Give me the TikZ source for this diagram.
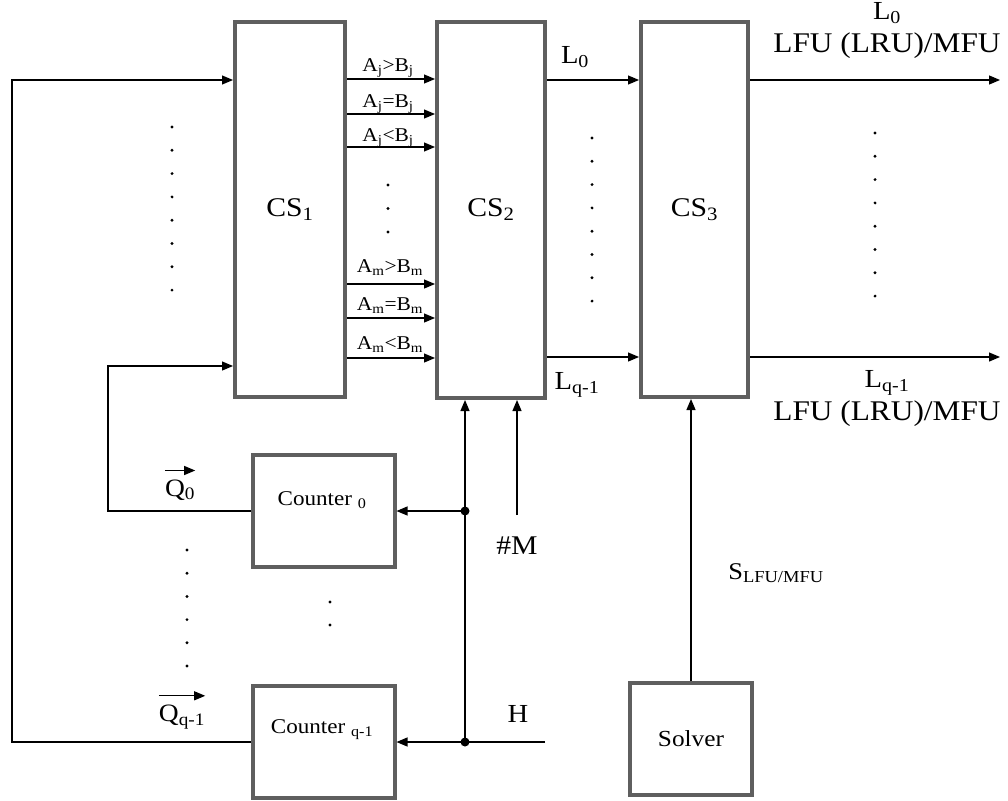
\documentclass[tikz,border=0pt]{standalone}
\usepackage{fontspec}
\setmainfont[FakeStretch=1.1]{Liberation Serif}
\usetikzlibrary{arrows.meta}
\definecolor{boxgray}{RGB}{95,95,95}
\newcommand\myfs[1]{\fontsize{#1}{#1}\selectfont}
\begin{document}
\begin{tikzpicture}[x=1pt,y=-1pt,
  box/.style={draw=boxgray,line width=4pt,inner sep=0pt},
  arr/.style={-{Triangle[length=11pt,width=9pt]},line width=1.2pt},
  ln/.style={line width=1.2pt},
  cmp/.style={inner sep=0pt,font=\myfs{19.5}},
  lbl/.style={inner sep=0pt},
  dotc/.style={fill=black}]
\useasboundingbox (0,0) rectangle (1008,800);
% boxes
\node[box,minimum width=110pt,minimum height=375pt] (cs1) at (290,209.5) {\myfs{27}CS\textsubscript{1}};
\node[box,minimum width=108pt,minimum height=376pt] (cs2) at (491,210) {\myfs{27}CS\textsubscript{2}};
\node[box,minimum width=107pt,minimum height=375pt] (cs3) at (694.5,209.5) {\myfs{27}CS\textsubscript{3}};
\node[box,minimum width=142pt,minimum height=112pt] (c0) at (323.5,511) {};
\node[box,minimum width=142pt,minimum height=112pt] (cq) at (323.5,742) {};
\node[box,minimum width=122pt,minimum height=112pt] (solver) at (691,739) {\myfs{23}Solver};
\node[lbl] (c0t) at (322,500) {\myfs{21}Counter~\textsubscript{0}};
\node[lbl] (cqt) at (322,730) {\myfs{21}Counter~\textsubscript{q-1}};
% feedback lines
\draw[arr] (cq.west) -- (12,742) -- (12,80) -- (cs1.west |- 0,80);
\draw[arr] (c0.west) -- (108,511) -- (108,366) -- (cs1.west |- 0,366);
% comparison outputs
\foreach \yy in {79,114,147,284,318,358}
  \draw[arr] (cs1.east |- 0,\yy) -- (cs2.west |- 0,\yy);
\node[cmp] (gj) at (388,68) {A\textsubscript{j}>B\textsubscript{j}};
\node[cmp] (ej) at (388,104) {A\textsubscript{j}=B\textsubscript{j}};
\node[cmp] (lj) at (388,138) {A\textsubscript{j}<B\textsubscript{j}};
\node[cmp] (gm) at (390,268) {A\textsubscript{m}>B\textsubscript{m}};
\node[cmp] (em) at (390,306) {A\textsubscript{m}=B\textsubscript{m}};
\node[cmp] (lm) at (390,345) {A\textsubscript{m}<B\textsubscript{m}};
% CS2 -> CS3
\draw[arr] (cs2.east |- 0,80) -- (cs3.west |- 0,80);
\draw[arr] (cs2.east |- 0,357) -- (cs3.west |- 0,357);
\node[lbl] (l0m) at (575,57) {\myfs{26}L\textsubscript{0}};
\node[lbl] (lqm) at (577,385) {\myfs{26}L\textsubscript{q-1}};
% outputs
\coordinate (o0) at (1000,80);
\coordinate (oq) at (1000,357);
\draw[arr] (cs3.east |- o0) -- (o0);
\draw[arr] (cs3.east |- oq) -- (oq);
\node[lbl] (l0r) at (887,13) {\myfs{26}L\textsubscript{0}};
\node[lbl] (f0r) at (887,46) {\myfs{28.5}LFU (LRU)/MFU};
\node[lbl] (lqr) at (887,383) {\myfs{26}L\textsubscript{q-1}};
\node[lbl] (fqr) at (887,414) {\myfs{28.5}LFU (LRU)/MFU};
% H and counters
\coordinate (hin) at (545,742);
\coordinate (j1) at (465,742);
\coordinate (j0) at (465,511);
\draw[ln] (hin) -- (j1);
\draw[arr] (j1) -- (cq.east);
\draw[arr] (j0) -- (c0.east);
\draw[arr] (j1) -- (j1 |- cs2.south);
\fill (j0) circle (4.5pt);
\fill (j1) circle (4.5pt);
\node[lbl] (hl) at (518,714) {\myfs{26}H};
\coordinate (m) at (517,515);
\draw[arr] (m) -- (m |- cs2.south);
\node[lbl] (ml) at (517,546) {\myfs{27}\#M};
% solver
\draw[arr] (solver.north) -- (solver.north |- cs3.south);
\node[lbl] (sl) at (776,573) {\myfs{24}S\textsubscript{LFU/MFU}};
% Q labels
\node[lbl] (q0) at (180,490) {\myfs{25}Q\textsubscript{0}};
\draw[arr,line width=1pt] ([yshift=9pt]q0.north west) -- ([yshift=9pt]q0.north east);
\node[lbl] (qq) at (182,717) {\myfs{25}Q\textsubscript{q-1}};
\draw[arr,line width=1pt] ([yshift=9pt]qq.north west) -- ([yshift=9pt]qq.north east);
% dots
\foreach \k in {0,...,7} {
  \fill[dotc] (172,127+23.3*\k) circle (1.6pt);
  \fill[dotc] (592,138+23.3*\k) circle (1.6pt);
  \fill[dotc] (875,133+23.3*\k) circle (1.6pt);
}
\foreach \k in {0,1,2} \fill[dotc] (388,185+23.5*\k) circle (1.6pt);
\foreach \k in {0,...,5} \fill[dotc] (187,550+23.2*\k) circle (1.6pt);
\foreach \k in {0,1} \fill[dotc] (330,602+23*\k) circle (1.6pt);
\end{tikzpicture}
\end{document}
